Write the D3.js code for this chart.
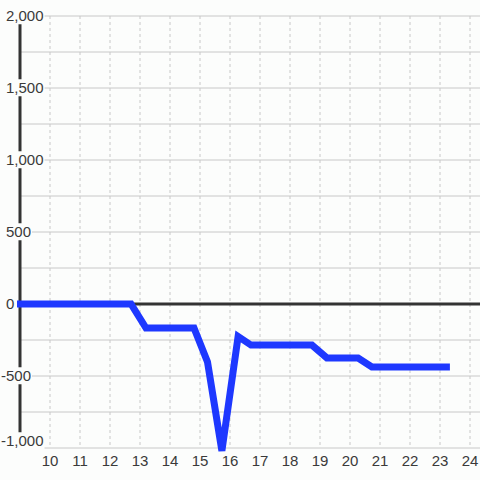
<!DOCTYPE html>
<html>
<head>
<meta charset="utf-8">
<script src="https://cdn.jsdelivr.net/npm/d3@7"></script>
<style>
  html, body { margin: 0; padding: 0; background: #fcfdfc; }
  svg text { font-family: "Liberation Sans", Arial, sans-serif; font-size: 15px; fill: #3a3a3a; }
</style>
</head>
<body>
<div id="chart"></div>
<script>
// hours of the day and running value
const hours = [8.9, 12.7, 13.2, 14.8, 15.25, 15.73, 16.27, 16.7, 18.73, 19.23, 20.27, 20.73, 23.33];
const values = [0, 0, -167, -167, -403, -1020, -225, -285, -285, -375, -375, -437, -437];

const xTicks = [10, 11, 12, 13, 14, 15, 16, 17, 18, 19, 20, 21, 22, 23, 24];
const yGrid = [-1000, -750, -500, -250, 0, 250, 500, 750, 1000, 1250, 1500, 1750, 2000];
const yLabels = [-1000, -500, 0, 500, 1000, 1500, 2000];

const W = 480, H = 480;
let margin = { top: 16, right: 0, bottom: 32, left: 20 };

const x = d3.scaleLinear().domain([10, 24]).range([50, 470]);
const y = d3.scaleLinear().domain([-1000, 2000]).range([H - margin.bottom, margin.top]);

const svg = d3.select("#chart").append("svg")
    .attr("width", W).attr("height", H);

svg.append("rect").attr("width", W).attr("height", H).attr("fill", "#fcfdfc");

// horizontal grid
svg.append("g").selectAll("line").data(yGrid).enter().append("line")
    .attr("x1", margin.left).attr("x2", W)
    .attr("y1", d => y(d)).attr("y2", d => y(d))
    .attr("stroke", "#c8c8c8").attr("stroke-width", 1);

// vertical dashed grid
svg.append("g").selectAll("line").data(xTicks).enter().append("line")
    .attr("x1", d => x(d)).attr("x2", d => x(d))
    .attr("y1", margin.top).attr("y2", H - margin.bottom)
    .attr("stroke", "#c8c8c8").attr("stroke-width", 1)
    .attr("stroke-dasharray", "3,3");

// y axis line
svg.append("line")
    .attr("x1", margin.left).attr("x2", margin.left)
    .attr("y1", y(2000)).attr("y2", y(-1000))
    .attr("stroke", "#333").attr("stroke-width", 3);

// zero line
svg.append("line")
    .attr("x1", margin.left).attr("x2", W)
    .attr("y1", y(0)).attr("y2", y(0))
    .attr("stroke", "#333").attr("stroke-width", 3);

// data line
const line = d3.line().x((d, i) => x(hours[i])).y(d => y(d));
svg.append("path").datum(values)
    .attr("d", line)
    .attr("fill", "none")
    .attr("stroke", "#1e38ff")
    .attr("stroke-width", 7)
    .attr("stroke-linejoin", "miter");

// y labels with background masks
const fmt = d3.format(",");
const ylab = svg.append("g").selectAll("g").data(yLabels).enter().append("g")
    .attr("transform", d => "translate(" + (d < 0 ? 1 : 6) + "," + (d === -1000 ? y(d) - 7 : y(d)) + ")");
ylab.append("text")
    .attr("dy", "0.35em")
    .text(d => fmt(d).replace("−", "-"));
ylab.each(function() {
    const g = d3.select(this);
    const bb = g.select("text").node().getBBox();
    g.insert("rect", "text")
        .attr("x", bb.x - 1).attr("y", bb.y)
        .attr("width", bb.width + 2).attr("height", bb.height)
        .attr("fill", "#fcfdfc");
});

// x labels
svg.append("g").selectAll("text").data(xTicks).enter().append("text")
    .attr("x", d => x(d)).attr("y", 461)
    .attr("dy", "0.35em")
    .attr("text-anchor", "middle")
    .text(d => d);
</script>
</body>
</html>
